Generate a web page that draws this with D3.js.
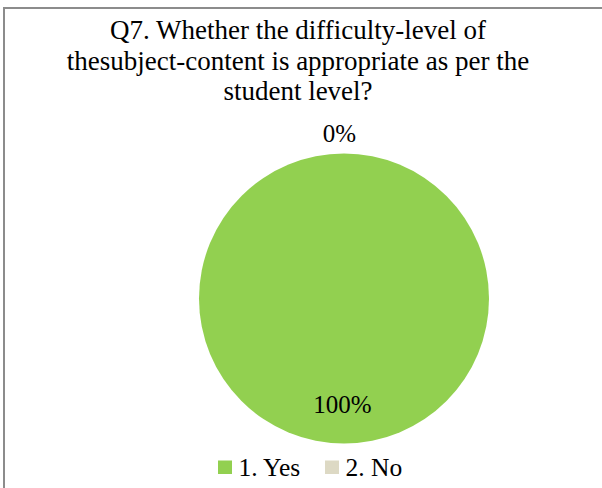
<!DOCTYPE html>
<html><head><meta charset="utf-8">
<script src="https://cdn.jsdelivr.net/npm/d3@7"></script>
<style>html,body{margin:0;padding:0;background:#fff;}svg{display:block;}
svg text{font-family:"Liberation Serif","Times New Roman",Times,serif;}</style>
</head><body>
<svg id="chart" width="602" height="488"></svg>
<script>
const titleLines = ["Q7. Whether the difficulty-level of", "thesubject-content is appropriate as per the", "student level?"];
const categories = ["1. Yes", "2. No"];
const values = [100, 0];
const labels = ["100%", "0%"];
const colors = ["#92D050", "#DDD9C4"];

const svg = d3.select("#chart");

// outer border
svg.append("rect").attr("x", 4).attr("y", 8).attr("width", 640).attr("height", 520)
  .attr("fill", "none").attr("stroke", "#8c8c8c").attr("stroke-width", 2);

// title
const titleY = [38.5, 70, 99.5];
svg.append("g").selectAll("text").data(titleLines).join("text")
  .attr("x", 298).attr("y", (d, i) => titleY[i])
  .attr("text-anchor", "middle").style("font-size", "27px")
  .attr("fill", "#000").text(d => d);

const cx = 344, cy = 298.5, r = 145;
const pie = d3.pie().sort(null).startAngle(0).endAngle(2 * Math.PI);
const arcs = pie(values);
const arc = d3.arc().innerRadius(0).outerRadius(r);
const g = svg.append("g").attr("transform", `translate(${cx},${cy})`);
g.selectAll("path").data(arcs).join("path")
  .attr("d", arc).attr("fill", (d, i) => colors[i]);

// data labels
const labelPos = [[-1.5, 114.5], [-4.5, -156.8]];
g.selectAll("text.lbl").data(arcs).join("text").attr("class", "lbl")
  .attr("x", (d, i) => labelPos[i][0]).attr("y", (d, i) => labelPos[i][1])
  .attr("text-anchor", "middle").style("font-size", "25px")
  .attr("fill", "#000").text((d, i) => labels[i]);

// legend
const legendX = [218, 325];
const lg = svg.append("g");
categories.forEach((c, i) => {
  lg.append("rect").attr("x", legendX[i]).attr("y", 460.5).attr("width", 14).attr("height", 13.5).attr("fill", colors[i]);
  lg.append("text").attr("x", legendX[i] + 20.5).attr("y", 475.5)
    .style("font-size", "25.5px").attr("fill", "#000").text(c);
});
</script>
</body></html>
